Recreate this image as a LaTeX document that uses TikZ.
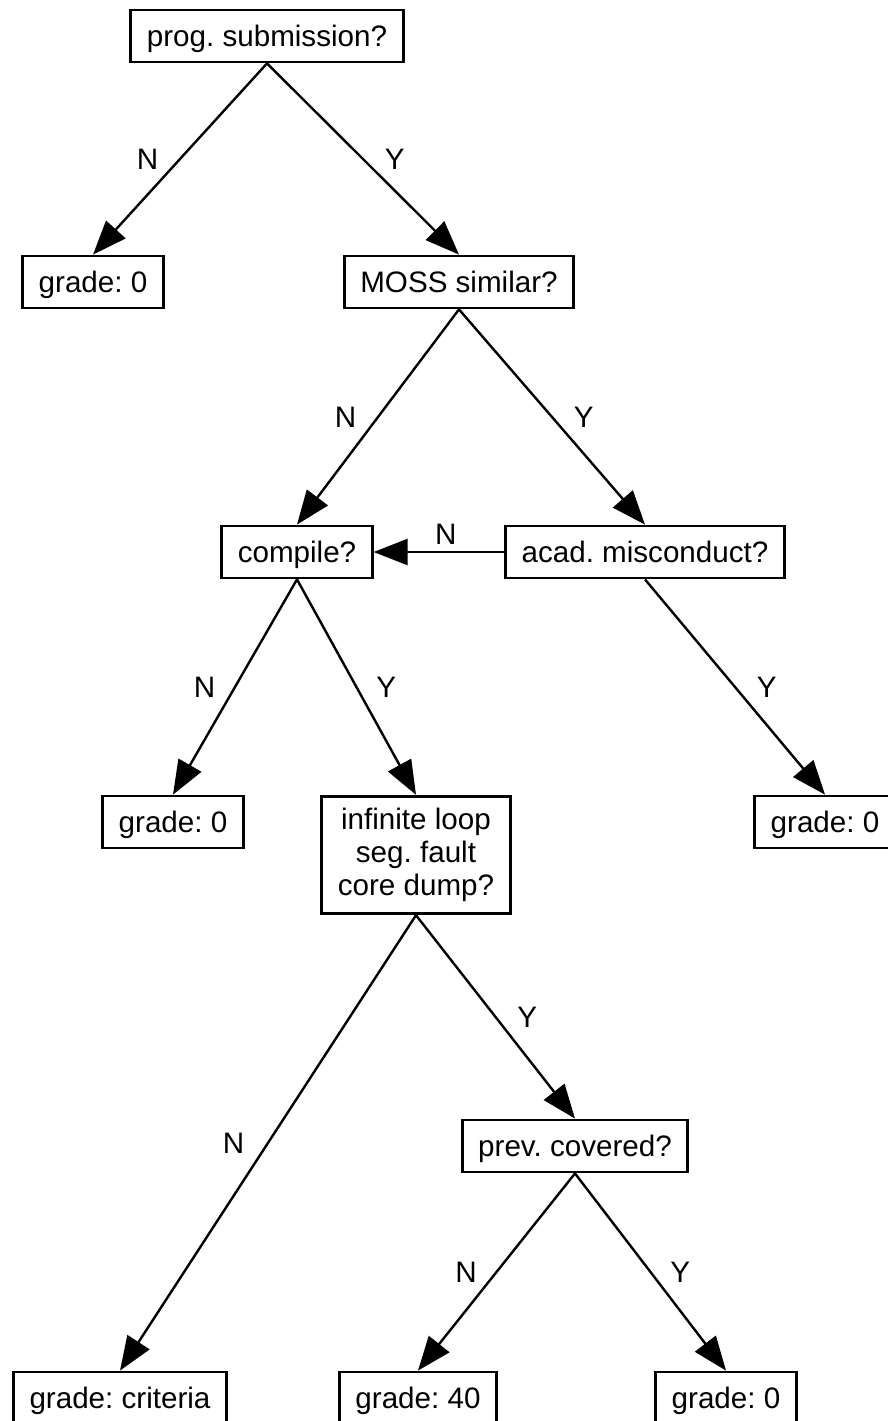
\documentclass[tikz,border=0pt]{standalone}
\usepackage{fontspec}
\setmainfont{Liberation Sans}
\frenchspacing
\usetikzlibrary{arrows.meta}
\tikzset{
  box/.style={draw,line width=1.4pt,inner xsep=8pt,minimum height=26pt,align=center,text height=12pt,text depth=1.5pt,font=\fontsize{14.8}{16.5}\selectfont},
  edge/.style={line width=1.2pt,-{Triangle[length=17pt,width=13pt]}},
  lbl/.style={font=\fontsize{14.8}{16.5}\selectfont}
}
\begin{document}
\begin{tikzpicture}[x=0.5pt,y=-0.5pt]
\useasboundingbox (0,0) rectangle (888,1421);
% decision nodes
\node[box] (prog) at (267,36) {prog. submission?};
\node[box] (moss) at (459,282) {MOSS similar?};
\node[box] (comp) at (297,552) {compile?};
\node[box] (acad) at (645,552) {acad. misconduct?};
\node[box,text height=,text depth=,inner ysep=6pt] (crash) at (416,855) {infinite loop\\seg. fault\\core dump?};
\node[box] (prev) at (575,1146) {prev. covered?};
% grades
\node[box] (gnosub) at (93,282) {grade: 0};
\node[box] (gnocomp) at (173,822) {grade: 0};
\node[box] (gmis) at (825,822) {grade: 0};
\node[box] (gcrit) at (120,1398) {grade: criteria};
\node[box] (gforty) at (418,1398) {grade: 40};
\node[box] (gprev) at (726,1398) {grade: 0};
% edges
\draw[edge] (prog.south) -- node[lbl,midway,left=7pt]{N} (gnosub.north);
\draw[edge] (prog.south) -- node[lbl,midway,right=7pt]{Y} (moss.north);
\draw[edge] (moss.south) -- node[lbl,midway,left=7pt]{N} (comp.north);
\draw[edge] (moss.south) -- node[lbl,midway,right=7pt]{Y} (acad.north);
\draw[edge] (acad.west) -- node[lbl,midway,above,xshift=3.5pt]{N} (comp.east);
\draw[edge] (comp.south) -- node[lbl,midway,left=6pt]{N} (gnocomp.north);
\draw[edge] (comp.south) -- node[lbl,midway,right=6pt]{Y} (crash.north);
\draw[edge] (acad.south) -- node[lbl,midway,right=7pt]{Y} (gmis.north);
\draw[edge] (crash.south) -- node[lbl,midway,left=8pt]{N} (gcrit.north);
\draw[edge] (crash.south) -- node[lbl,midway,right=7pt]{Y} (prev.north);
\draw[edge] (prev.south) -- node[lbl,midway,left=6pt]{N} (gforty.north);
\draw[edge] (prev.south) -- node[lbl,midway,right=6pt]{Y} (gprev.north);
\end{tikzpicture}
\end{document}
